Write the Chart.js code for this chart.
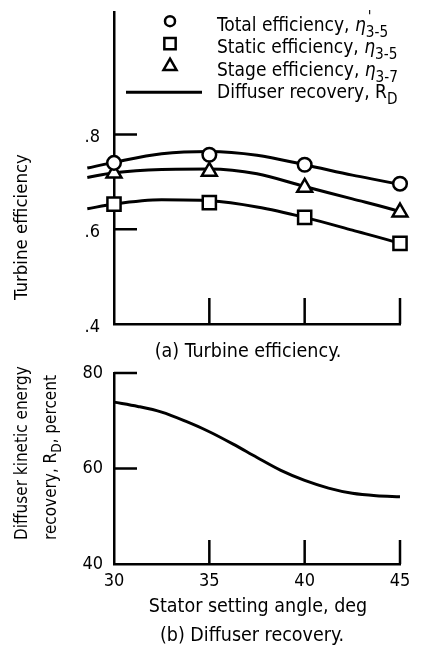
<!DOCTYPE html>
<html>
<head>
<meta charset="utf-8">
<script src="https://cdn.jsdelivr.net/npm/chart.js@4.4.1/dist/chart.umd.min.js"></script>
<style>
  html, body { margin: 0; padding: 0; background: #fff; }
  #wrap { position: relative; width: 423px; height: 650px; }
  .box { position: absolute; left: 0; width: 423px; }
  #top { top: 0; height: 365px; }
  #bot { top: 365px; height: 285px; }
</style>
</head>
<body>
<div id="wrap">
  <div class="box" id="top"><canvas id="effChart"></canvas></div>
  <div class="box" id="bot"><canvas id="diffChart"></canvas></div>
</div>
<script>
// stator setting angle, deg
const angleTicks = [30, 35, 40, 45];
const testAngles = [30, 35, 40, 45];

// measured efficiencies at each setting angle
const totalEff = [0.740, 0.757, 0.736, 0.696];
const staticEff = [0.653, 0.656, 0.625, 0.570];
const stageEff = [0.718, 0.722, 0.688, 0.636];

// faired curves through the test points (run a bit past the end angles)
const fairAngles = [28.6, 30, 32.5, 35, 37.5, 40, 42.5, 45, 46.1];
const totalFair = [0.729, 0.741, 0.759, 0.764, 0.756, 0.736, 0.714, 0.694, 0.682];
const stageFair = [0.709, 0.719, 0.726, 0.727, 0.717, 0.690, 0.664, 0.637, 0.622];
const staticFair = [0.643, 0.653, 0.662, 0.660, 0.647, 0.625, 0.598, 0.570, 0.555];

const effTicks = [0.4, 0.6, 0.8];
const effTickLabels = ['.4', '.6', '.8'];

// diffuser kinetic energy recovery, percent
const diffAngles = [30, 31.25, 32.5, 33.75, 35, 36.25, 37.5, 38.75, 40, 41.25, 42.5, 43.75, 45];
const diffRecovery = [73.9, 73.0, 71.8, 69.9, 67.7, 65.1, 62.3, 59.6, 57.5, 55.9, 54.8, 54.3, 54.1];
const recTicks = [40, 60, 80];

const FAMILY = '"DejaVu Sans Condensed", "Liberation Sans Narrow", "DejaVu Sans", sans-serif';
const INK = '#000';
Chart.defaults.font.family = FAMILY;
Chart.defaults.color = INK;

const font = (size, italic) => (italic ? 'italic ' : '') + size + 'px ' + FAMILY;

// text runs: plain strings, {it:'η'} for italic, {sub:'3-5', sup:"'"} for indices
function partWidth(ctx, p, size) {
  if (typeof p === 'string') { ctx.font = font(size); return ctx.measureText(p).width; }
  if (p.it) { ctx.font = font(size, true); return ctx.measureText(p.it).width; }
  ctx.font = font(size * 0.8);
  return ctx.measureText(p.sub).width;
}

function drawRich(ctx, parts, x, y, size, align, base) {
  let cx = x;
  if (align === 'center') {
    cx -= parts.reduce((w, p) => w + partWidth(ctx, p, size), 0) / 2;
  }
  ctx.textAlign = 'left';
  ctx.textBaseline = base || 'alphabetic';
  parts.forEach(p => {
    const w = partWidth(ctx, p, size);
    if (typeof p === 'string') ctx.fillText(p, cx, y);
    else if (p.it) ctx.fillText(p.it, cx, y);
    else {
      ctx.fillText(p.sub, cx, y + size * 0.33);
      if (p.sup) ctx.fillText(p.sup, cx + 2, y - size * 0.45);
    }
    cx += w;
  });
}

function makeNotes(items) {
  return {
    id: 'notes',
    afterDraw(chart) {
      const ctx = chart.ctx;
      items.forEach(it => {
        ctx.save();
        ctx.translate(it.x, it.y);
        if (it.rot) ctx.rotate(it.rot);
        ctx.fillStyle = INK;
        drawRich(ctx, it.parts, 0, 0, it.size, it.align, it.base);
        ctx.restore();
      });
    }
  };
}

// tick marks drawn inside the frame, like the original plots
function makeInnerTicks(xVals, yVals, xLen, yLen) {
  return {
    id: 'innerTicks',
    afterDraw(chart) {
      const { ctx, chartArea: a, scales } = chart;
      ctx.save();
      ctx.strokeStyle = INK;
      ctx.lineWidth = 2.5;
      ctx.beginPath();
      xVals.forEach(v => {
        const px = scales.x.getPixelForValue(v);
        ctx.moveTo(px, a.bottom);
        ctx.lineTo(px, a.bottom - xLen);
      });
      yVals.forEach(v => {
        const py = scales.y.getPixelForValue(v);
        ctx.moveTo(a.left, py);
        ctx.lineTo(a.left + yLen, py);
      });
      ctx.stroke();
      ctx.restore();
    }
  };
}

const keyRows = [
  { style: 'circle', r: 5, parts: ['Total efficiency, ', { it: 'η' }, { sub: '3-5', sup: "'" }] },
  { style: 'rect', r: 8, parts: ['Static efficiency, ', { it: 'η' }, { sub: '3-5' }] },
  { style: 'triangle', r: 7.5, parts: ['Stage efficiency, ', { it: 'η' }, { sub: '3-7' }] },
  { style: 'line', parts: ['Diffuser recovery, R', { sub: 'D' }] }
];

const keyBox = {
  id: 'keyBox',
  afterDraw(chart) {
    const ctx = chart.ctx;
    const markX = 170, textX = 217, firstBase = 30.7, gap = 22.5;
    keyRows.forEach((row, i) => {
      const base = firstBase + i * gap;
      ctx.save();
      ctx.strokeStyle = INK;
      ctx.fillStyle = '#fff';
      if (row.style === 'line') {
        ctx.lineWidth = 3;
        ctx.beginPath();
        ctx.moveTo(126, base - 6);
        ctx.lineTo(202, base - 6);
        ctx.stroke();
      } else {
        ctx.lineWidth = 2.5;
        Chart.helpers.drawPoint(ctx, { pointStyle: row.style, radius: row.r, borderWidth: 2.5 }, markX, base - 9.5);
      }
      ctx.fillStyle = INK;
      drawRich(ctx, row.parts, textX, base, 19, 'left');
      ctx.restore();
    });
  }
};

const pts = (xs, ys) => xs.map((x, i) => ({ x, y: ys[i] }));

const fairLine = (data) => ({
  data, borderColor: INK, borderWidth: 3, pointRadius: 0,
  cubicInterpolationMode: 'monotone', clip: false, order: 2
});

const marks = (data, style, r) => ({
  data, showLine: false, pointStyle: style, pointRadius: r,
  pointBorderWidth: 2.5, pointBorderColor: INK, pointBackgroundColor: '#fff',
  clip: false, order: 1
});

const frame = { display: true, width: 2.5, color: INK };

// keep the plot frame where the layout padding puts it
function noEdgePad(s) {
  s.paddingTop = 0; s.paddingBottom = 0; s.paddingLeft = 0; s.paddingRight = 0;
}

new Chart(document.getElementById('effChart'), {
  type: 'line',
  data: {
    datasets: [
      marks(pts(testAngles, totalEff), 'circle', 6.8),
      marks(pts(testAngles, staticEff), 'rect', 9.3),
      marks(pts(testAngles, stageEff), 'triangle', 8.6),
      fairLine(pts(fairAngles, totalFair)),
      fairLine(pts(fairAngles, stageFair)),
      fairLine(pts(fairAngles, staticFair))
    ]
  },
  options: {
    responsive: true, maintainAspectRatio: false, animation: false, events: [],
    layout: { padding: { top: 10, right: 23, bottom: 0, left: 0 } },
    plugins: { legend: { display: false }, tooltip: { enabled: false } },
    scales: {
      x: {
        type: 'linear', min: 30, max: 45,
        afterFit(s) { s.height = 41; noEdgePad(s); },
        afterBuildTicks(s) { s.ticks = angleTicks.map(v => ({ value: v })); },
        ticks: { display: false },
        grid: { display: false, drawTicks: false },
        border: frame
      },
      y: {
        type: 'linear', min: 0.4, max: 1.0586,
        afterFit(s) { s.width = 114; noEdgePad(s); },
        afterBuildTicks(s) { s.ticks = effTicks.map(v => ({ value: v })); },
        ticks: { padding: 14, labelOffset: 3, font: { size: 18 }, callback: (v, i) => effTickLabels[i] },
        grid: { display: false, drawTicks: false },
        border: frame
      }
    }
  },
  plugins: [
    makeInnerTicks([35, 40, 45], [0.6, 0.8], 26, 23),
    keyBox,
    makeNotes([
      { parts: ['Turbine efficiency'], x: 22, y: 227, rot: -Math.PI / 2, size: 18.5, align: 'center', base: 'middle' },
      { parts: ['(a) Turbine efficiency.'], x: 248, y: 357, size: 19.5, align: 'center' }
    ])
  ]
});

new Chart(document.getElementById('diffChart'), {
  type: 'line',
  data: {
    datasets: [fairLine(pts(diffAngles, diffRecovery))]
  },
  options: {
    responsive: true, maintainAspectRatio: false, animation: false, events: [],
    layout: { padding: { top: 8, right: 23, bottom: 0, left: 0 } },
    plugins: { legend: { display: false }, tooltip: { enabled: false } },
    scales: {
      x: {
        type: 'linear', min: 30, max: 45,
        afterFit(s) { s.height = 86; noEdgePad(s); },
        afterBuildTicks(s) { s.ticks = angleTicks.map(v => ({ value: v })); },
        ticks: { padding: 7, font: { size: 18 }, maxRotation: 0 },
        grid: { display: false, drawTicks: false },
        border: frame
      },
      y: {
        type: 'linear', min: 40, max: 80,
        afterFit(s) { s.width = 114; noEdgePad(s); },
        afterBuildTicks(s) { s.ticks = recTicks.map(v => ({ value: v })); },
        ticks: { padding: 11, font: { size: 18 } },
        grid: { display: false, drawTicks: false },
        border: frame
      }
    }
  },
  plugins: [
    makeInnerTicks([35, 40, 45], [60, 80], 24, 23),
    makeNotes([
      { parts: ['Diffuser kinetic energy'], x: 23, y: 175, rot: -Math.PI / 2, size: 17, align: 'left', base: 'middle' },
      { parts: ['recovery, R', { sub: 'D' }, ', percent'], x: 52, y: 175, rot: -Math.PI / 2, size: 17, align: 'left', base: 'middle' },
      { parts: ['Stator setting angle, deg'], x: 258, y: 247, size: 19.5, align: 'center' },
      { parts: ['(b) Diffuser recovery.'], x: 252, y: 276, size: 19.5, align: 'center' }
    ])
  ]
});
</script>
</body>
</html>
